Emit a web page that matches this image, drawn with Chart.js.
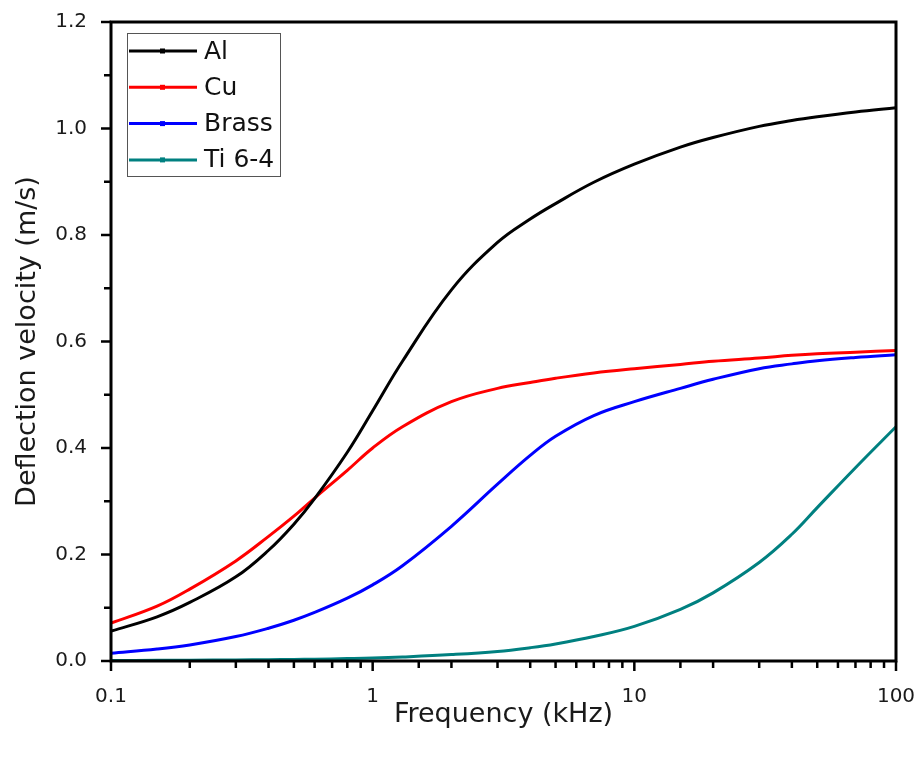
<!DOCTYPE html>
<html>
<head>
<meta charset="utf-8">
<script src="https://cdn.jsdelivr.net/npm/chart.js@4.4.1/dist/chart.umd.min.js"></script>
<style>
  html, body { margin: 0; padding: 0; background: #fff; }
  #wrap { width: 924px; height: 759px; }
</style>
</head>
<body>
<div id="wrap"><canvas id="chart" width="924" height="759"></canvas></div>
<script>
// frequency in kHz (log axis)
const freqs = [0.1, 0.15, 0.2, 0.3, 0.4, 0.5, 0.6, 0.8, 1, 1.3, 2, 3, 4, 5, 7, 10, 15, 20, 30, 40, 50, 70, 100];

// deflection velocity (m/s)
const alValues    = [0.056, 0.083, 0.110, 0.158, 0.208, 0.257, 0.305, 0.392, 0.470, 0.563, 0.697, 0.786, 0.830, 0.859, 0.899, 0.933, 0.965, 0.983, 1.004, 1.015, 1.022, 1.031, 1.039];
const cuValues    = [0.071, 0.103, 0.135, 0.188, 0.234, 0.272, 0.306, 0.358, 0.400, 0.440, 0.487, 0.512, 0.523, 0.531, 0.541, 0.549, 0.557, 0.563, 0.569, 0.574, 0.577, 0.580, 0.583];
const brassValues = [0.0145, 0.0224, 0.0302, 0.046, 0.0616, 0.0766, 0.0912, 0.118, 0.143, 0.179, 0.253, 0.332, 0.386, 0.422, 0.461, 0.487, 0.512, 0.529, 0.549, 0.558, 0.564, 0.570, 0.575];
const tiValues    = [0.001, 0.0013, 0.0016, 0.002, 0.0025, 0.003, 0.0035, 0.0045, 0.0055, 0.0075, 0.012, 0.018, 0.025, 0.032, 0.046, 0.065, 0.097, 0.128, 0.185, 0.238, 0.288, 0.363, 0.440];

const seriesNames  = ["Al", "Cu", "Brass", "Ti 6-4"];
const seriesColors = ["#000000", "#ff0000", "#0000ff", "#008080"];
const seriesData   = [alValues, cuValues, brassValues, tiValues];

const xTickLabels = [0.1, 1, 10, 100];
const yMajorStep = 0.2;

const FONT = "'DejaVu Sans', 'Liberation Sans', sans-serif";

function isDecade(v) {
  const l = Math.log10(v);
  return Math.abs(l - Math.round(l)) < 1e-9;
}
function isYMajor(v) {
  return Math.round(v * 10) % Math.round(yMajorStep * 10) === 0;
}

// frame, outward ticks and the boxed legend
const axisFrame = {
  id: "axisFrame",
  afterDatasetsDraw(chart) {
    const { ctx, chartArea: a, scales: { x, y } } = chart;
    ctx.save();
    ctx.strokeStyle = "#000";
    ctx.lineWidth = 3;
    ctx.strokeRect(a.left, a.top, a.right - a.left, a.bottom - a.top);

    ctx.lineWidth = 2.5;
    ctx.beginPath();
    x.ticks.forEach(t => {
      const px = x.getPixelForValue(t.value);
      const len = isDecade(t.value) ? 10 : 7;
      ctx.moveTo(px, a.bottom);
      ctx.lineTo(px, a.bottom + len);
    });
    y.ticks.forEach(t => {
      const py = y.getPixelForValue(t.value);
      const len = isYMajor(t.value) ? 10 : 7;
      ctx.moveTo(a.left, py);
      ctx.lineTo(a.left - len, py);
    });
    ctx.stroke();

    // legend box
    const bx = 127, by = 33, bw = 153, bh = 143;
    ctx.lineWidth = 1;
    ctx.strokeStyle = "#555";
    ctx.strokeRect(bx + 0.5, by + 0.5, bw, bh);
    ctx.font = "25px " + FONT;
    ctx.textBaseline = "middle";
    ctx.textAlign = "left";
    chart.data.datasets.forEach((ds, i) => {
      const ry = 51 + i * 36.3;
      ctx.strokeStyle = ds.borderColor;
      ctx.lineWidth = 3;
      ctx.beginPath();
      ctx.moveTo(129, ry);
      ctx.lineTo(197, ry);
      ctx.stroke();
      ctx.fillStyle = ds.borderColor;
      ctx.fillRect(160, ry - 2.5, 5, 5);
      ctx.fillStyle = "#111";
      ctx.fillText(ds.label, 204, ry + 1);
    });
    ctx.restore();
  }
};

const datasets = seriesNames.map((name, i) => ({
  label: name,
  data: freqs.map((f, j) => ({ x: f, y: seriesData[i][j] })),
  borderColor: seriesColors[i],
  backgroundColor: seriesColors[i],
  borderWidth: 3,
  pointRadius: 0,
  tension: 0.4,
  fill: false
}));

new Chart(document.getElementById("chart").getContext("2d"), {
  type: "line",
  data: { datasets },
  options: {
    responsive: false,
    animation: false,
    layout: { padding: { left: 0, right: 28, top: 22, bottom: 0 } },
    plugins: { legend: { display: false }, tooltip: { enabled: false } },
    scales: {
      x: {
        type: "logarithmic",
        min: 0.1,
        max: 100,
        grid: { display: false },
        border: { display: false },
        ticks: {
          autoSkip: false,
          maxRotation: 0,
          padding: 16,
          color: "#1a1a1a",
          font: { family: FONT, size: 20 },
          callback: v => (xTickLabels.some(t => Math.abs(t - v) < 1e-9) ? String(v) : "")
        },
        title: {
          display: true,
          text: "Frequency (kHz)",
          color: "#1a1a1a",
          font: { family: FONT, size: 27 },
          padding: { top: 0, bottom: 28 }
        },
        afterFit: s => { s.height = 98; s.paddingLeft = 0; s.paddingRight = 0; }
      },
      y: {
        min: 0,
        max: 1.2,
        grid: { display: false },
        border: { display: false },
        ticks: {
          stepSize: 0.1,
          autoSkip: false,
          padding: 16,
          color: "#1a1a1a",
          font: { family: FONT, size: 20 },
          callback: v => (isYMajor(v) ? v.toFixed(1) : "")
        },
        title: {
          display: true,
          text: "Deflection velocity (m/s)",
          color: "#1a1a1a",
          font: { family: FONT, size: 27 },
          padding: { top: 12, bottom: 0 }
        },
        afterFit: s => { s.width = 111; s.paddingTop = 0; s.paddingBottom = 0; }
      }
    }
  },
  plugins: [axisFrame]
});
</script>
</body>
</html>
